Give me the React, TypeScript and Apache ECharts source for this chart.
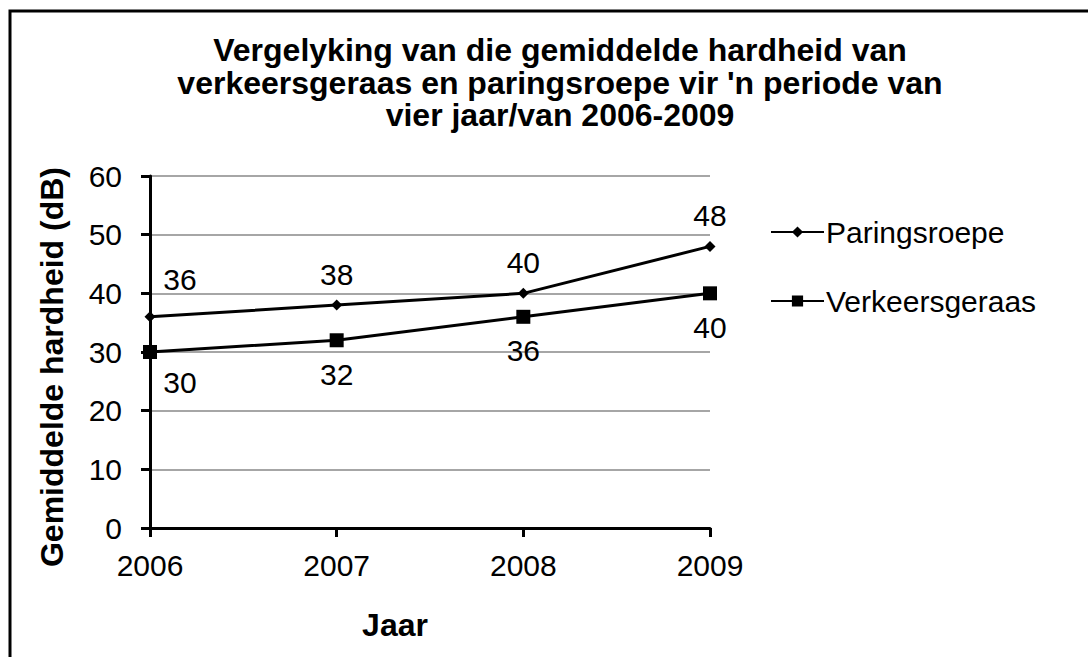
import React, { useEffect, useRef } from "react";
import * as echarts from "echarts";

const years = ["2006", "2007", "2008", "2009"];
const paringsroepe = [36, 38, 40, 48];
const verkeersgeraas = [30, 32, 36, 40];
const titleText = "Vergelyking van die gemiddelde hardheid van\nverkeersgeraas en paringsroepe vir 'n periode van\nvier jaar/van 2006-2009";
const yName = "Gemiddelde hardheid (dB)";
const xName = "Jaar";

const FONT = "'Liberation Sans', Arial, sans-serif";

export default function App() {
  const ref = useRef<HTMLDivElement>(null);
  useEffect(() => {
    const chart = echarts.init(ref.current!, null, { renderer: "svg" });
    chart.setOption({
      animation: false,
      backgroundColor: "#fff",
      textStyle: { fontFamily: FONT },
      title: {
        text: titleText,
        left: 555,
        top: 29,
        textAlign: "center",
        textStyle: { fontSize: 32, fontWeight: "bold", color: "#000", lineHeight: 32.5, fontFamily: FONT },
      },
      graphic: [
        {
          type: "rect",
          shape: { x: 10, y: 11, width: 1090, height: 660 },
          style: { fill: "none", stroke: "#000", lineWidth: 3 },
          silent: true,
        },
        {
          type: "text",
          x: 52,
          y: 367,
          rotation: Math.PI / 2,
          style: {
            text: yName,
            fill: "#000",
            font: "bold 32px 'Liberation Sans', Arial, sans-serif",
            textAlign: "center",
            textVerticalAlign: "middle",
          },
          silent: true,
        },
        {
          type: "text",
          x: 395,
          y: 625,
          style: {
            text: xName,
            fill: "#000",
            font: "bold 32px 'Liberation Sans', Arial, sans-serif",
            textAlign: "center",
            textVerticalAlign: "middle",
          },
          silent: true,
        },
      ],
      legend: {
        orient: "vertical",
        left: 770,
        top: 217,
        padding: 0,
        itemGap: 39,
        itemWidth: 53,
        itemHeight: 14,
        textStyle: { fontSize: 30, color: "#000", fontFamily: FONT, padding: [0, 0, 0, -3] },
        data: ["Paringsroepe", "Verkeersgeraas"],
      },
      grid: { left: 150, top: 176, width: 560, height: 352, containLabel: false },
      xAxis: {
        type: "category",
        data: years,
        boundaryGap: false,
        axisLine: { lineStyle: { color: "#000", width: 3 } },
        axisTick: { show: true, length: 9, lineStyle: { color: "#000", width: 3 }, alignWithLabel: true },
        axisLabel: { fontSize: 30, color: "#000", margin: 22, fontFamily: FONT },
        splitLine: { show: false },
      },
      yAxis: {
        type: "value",
        min: 0,
        max: 60,
        interval: 10,
        axisLine: { show: true, lineStyle: { color: "#000", width: 3 } },
        axisTick: { show: true, length: 9, lineStyle: { color: "#000", width: 3 } },
        axisLabel: { fontSize: 30, color: "#000", margin: 28, fontFamily: FONT },
        splitLine: { lineStyle: { color: "#888", width: 1.5 } },
      },
      series: [
        {
          name: "Paringsroepe",
          type: "line",
          data: paringsroepe.map((v, i) => ({
            value: v,
            label: i === 0 ? { offset: [30, -7] } : {},
          })),
          symbol: "diamond",
          symbolSize: 11,
          itemStyle: { color: "#000" },
          lineStyle: { color: "#000", width: 3 },
          label: { show: true, position: "top", distance: 10, fontSize: 30, color: "#000", fontFamily: FONT },
          z: 3,
        },
        {
          name: "Verkeersgeraas",
          type: "line",
          data: verkeersgeraas.map((v, i) => ({
            value: v,
            label: i === 0 ? { offset: [30, -4] } : {},
          })),
          symbol: "rect",
          symbolSize: 14,
          itemStyle: { color: "#000" },
          lineStyle: { color: "#000", width: 3 },
          label: { show: true, position: "bottom", distance: 12, fontSize: 30, color: "#000", fontFamily: FONT },
          z: 3,
        },
      ],
    });
    return () => chart.dispose();
  }, []);
  return (
    <div
      ref={ref}
      style={{ position: "fixed", left: 0, top: 0, width: 1088, height: 657 }}
    />
  );
}
